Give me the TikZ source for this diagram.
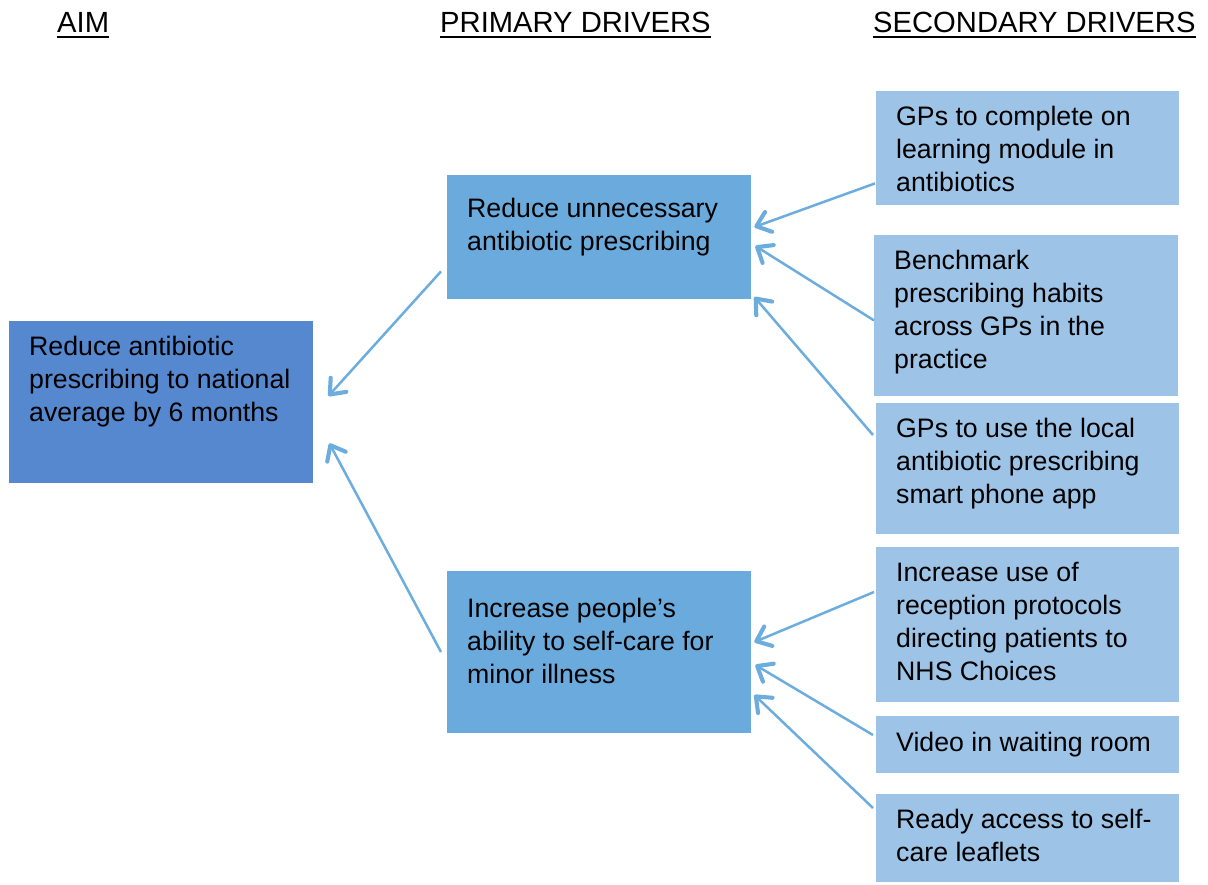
\documentclass[tikz,border=0pt]{standalone}
\usepackage{fontspec}
\setmainfont{Liberation Sans}
\usetikzlibrary{arrows.meta,calc}
\definecolor{aimc}{HTML}{5588CF}
\definecolor{primc}{HTML}{6BAADC}
\definecolor{secc}{HTML}{9DC3E6}
\definecolor{arrc}{HTML}{6CADDE}
\newcommand\myst{\rule{0pt}{24pt}}
\begin{document}
\begin{tikzpicture}[x=1pt,y=-1pt,
  boxbase/.style={rectangle, inner sep=0pt, anchor=north west, draw=none},
  aimbox/.style={boxbase, fill=aimc},
  primbox/.style={boxbase, fill=primc},
  secbox/.style={boxbase, fill=secc},
  txt/.style={inner sep=0pt, anchor=north west, align=left, text=black,
    font=\fontsize{26.7}{33}\selectfont},
  hdr/.style={inner sep=0pt, anchor=base west, text=black,
    font=\fontsize{29.2}{34}\selectfont},
  uline/.style={draw=black, line width=1.5pt},
  arr/.style={draw=arrc, line width=2.5pt,
    -{Straight Barb[length=13pt,width=21pt,line width=1.6pt 1,round]}}
]
\useasboundingbox (0,0) rectangle (1208,884);

% headers
\node[hdr] (h1) at (57,32) {AIM};
\node[hdr] (h2) at (440,32) {PRIMARY DRIVERS};
\node[hdr] (h3) at (873,32) {SECONDARY DRIVERS};
\draw[uline] ($(h1.base west)+(0,5)$) -- ($(h1.base east)+(0,5)$);
\draw[uline] ($(h2.base west)+(0,5)$) -- ($(h2.base east)+(0,5)$);
\draw[uline] ($(h3.base west)+(0,5)$) -- ($(h3.base east)+(0,5)$);

% aim
\node[aimbox, minimum width=304pt, minimum height=162pt] (aim) at (9,321) {};
\node[txt] (taim) at (29,331) {\myst Reduce antibiotic\\prescribing to national\\average by 6 months};

% primary drivers
\node[primbox, minimum width=304pt, minimum height=124pt] (p1) at (447,175) {};
\node[txt] (tp1) at (467,193) {\myst Reduce unnecessary\\antibiotic prescribing};
\node[primbox, minimum width=304pt, minimum height=162pt] (p2) at (447,571) {};
\node[txt] (tp2) at (467,593) {\myst Increase people’s\\ability to self-care for\\minor illness};

% secondary drivers
\node[secbox, minimum width=303pt, minimum height=114pt] (s1) at (876,91) {};
\node[txt] (ts1) at (896,101) {\myst GPs to complete on\\learning module in\\antibiotics};
\node[secbox, minimum width=304pt, minimum height=161pt] (s2) at (874,235) {};
\node[txt] (ts2) at (894,245) {\myst Benchmark\\prescribing habits\\across GPs in the\\practice};
\node[secbox, minimum width=303pt, minimum height=131pt] (s3) at (876,403) {};
\node[txt] (ts3) at (896,413) {\myst GPs to use the local\\antibiotic prescribing\\smart phone app};
\node[secbox, minimum width=303pt, minimum height=155pt] (s4) at (876,547) {};
\node[txt] (ts4) at (896,557) {\myst Increase use of\\reception protocols\\directing patients to\\NHS Choices};
\node[secbox, minimum width=303pt, minimum height=57pt] (s5) at (876,716) {};
\node[txt] (ts5) at (896,727) {\myst Video in waiting room};
\node[secbox, minimum width=303pt, minimum height=88pt] (s6) at (876,794) {};
\node[txt] (ts6) at (896,804) {\myst Ready access to self-\\care leaflets};

% arrows primary -> aim
\draw[arr] ($(p1.south west)+(-6,-28)$) -- ($(aim.north east)+(15,75)$);
\draw[arr] ($(p2.north west)+(-6,81)$) -- ($(aim.south east)+(16,-40)$);

% arrows secondary -> primary
\draw[arr] ($(s1.south west)+(-1,-22)$) -- ($(p1.north east)+(3,52)$);
\draw[arr] ($(s2.south west)+(0,-76)$) -- ($(p1.north east)+(4,71)$);
\draw[arr] ($(s3.north west)+(-3,32)$) -- ($(p1.north east)+(3,122)$);
\draw[arr] ($(s4.north west)+(-2,45)$) -- ($(p2.north east)+(3,71)$);
\draw[arr] ($(s5.north west)+(-3,19)$) -- ($(p2.north east)+(4,94)$);
\draw[arr] ($(s6.north west)+(-3,14)$) -- ($(p2.north east)+(3,124)$);
\end{tikzpicture}
\end{document}
